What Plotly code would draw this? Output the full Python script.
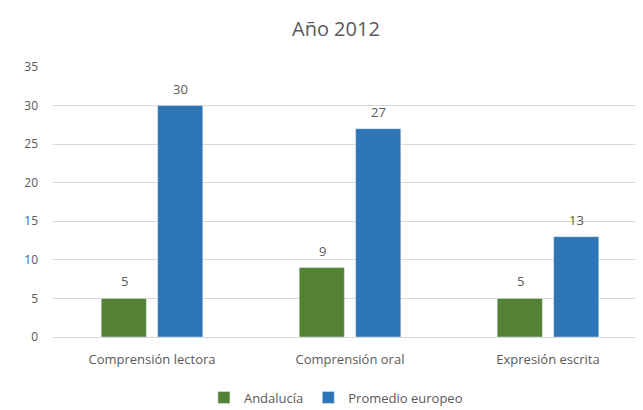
import plotly.graph_objects as go

categories = ["Comprensión lectora", "Comprensión oral", "Expresión escrita"]
andalucia = [5, 9, 5]
promedio_europeo = [30, 27, 13]
series_names = ["Andalucía", "Promedio europeo"]
y_ticks = [0, 5, 10, 15, 20, 25, 30, 35]

gray = "#595959"
font_family = "Open Sans, Liberation Sans, sans-serif"
colors = ["#548235", "#2E75B6"]
series_values = [andalucia, promedio_europeo]
offsets = [-28, 28]

fig = go.Figure()
for name, vals, col in zip(series_names, series_values, colors):
    fig.add_trace(go.Bar(x=categories, y=vals, name=name, marker=dict(color=col)))

annotations = []
for vals, off in zip(series_values, offsets):
    for cat, v in zip(categories, vals):
        annotations.append(dict(
            x=cat, y=v, xref="x", yref="y", text=str(v), showarrow=False,
            xshift=off, yshift=6, yanchor="bottom", xanchor="center",
            font=dict(size=13, color=gray, family=font_family),
        ))

fig.update_layout(
    width=643, height=410,
    margin=dict(l=45, r=4, t=59, b=81),
    paper_bgcolor="white", plot_bgcolor="white",
    font=dict(family=font_family, color=gray, size=12),
    title=dict(text="Año 2012", x=0.51, xref="container", xanchor="center",
               y=0.95, yref="container", yanchor="middle",
               font=dict(size=20, color=gray, family=font_family)),
    barmode="group", bargap=0.43, bargroupgap=0.2,
    showlegend=True,
    legend=dict(orientation="h", x=0.51, xref="container", xanchor="center",
                y=0.05, yref="container", yanchor="middle",
                font=dict(size=13, color=gray), itemwidth=30,
                tracegroupgap=0),
    annotations=annotations,
    xaxis=dict(showgrid=False, showline=True, linecolor="#D9D9D9", linewidth=1,
               ticks="", tickfont=dict(size=13, color=gray), ticklabelstandoff=10),
    yaxis=dict(range=[0, 35], tickvals=y_ticks, showgrid=True, gridcolor="#D9D9D9",
               gridwidth=1, zeroline=False, showline=False, ticks="",
               tickfont=dict(size=12, color=gray), ticklabelstandoff=14),
)

fig.write_html("out.html")
